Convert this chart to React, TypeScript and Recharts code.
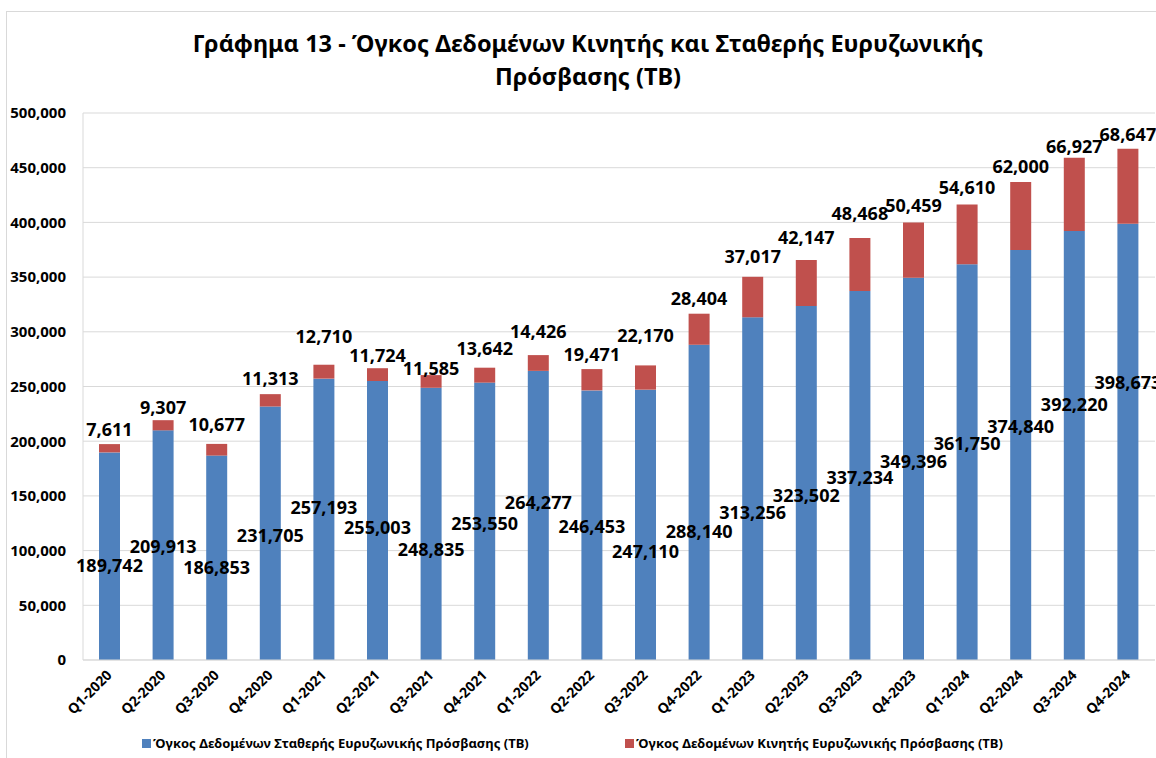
import React from 'react';
import {
  BarChart,
  Bar,
  XAxis,
  YAxis,
  CartesianGrid,
  LabelList
} from 'recharts';

// quarters on the category axis
const QUARTERS = [
  'Q1-2020', 'Q2-2020', 'Q3-2020', 'Q4-2020',
  'Q1-2021', 'Q2-2021', 'Q3-2021', 'Q4-2021',
  'Q1-2022', 'Q2-2022', 'Q3-2022', 'Q4-2022',
  'Q1-2023', 'Q2-2023', 'Q3-2023', 'Q4-2023',
  'Q1-2024', 'Q2-2024', 'Q3-2024', 'Q4-2024'
];

// fixed broadband traffic (TB)
const FIXED_TB = [
  189742, 209913, 186853, 231705,
  257193, 255003, 248835, 253550,
  264277, 246453, 247110, 288140,
  313256, 323502, 337234, 349396,
  361750, 374840, 392220, 398673
];

// mobile broadband traffic (TB)
const MOBILE_TB = [
  7611, 9307, 10677, 11313,
  12710, 11724, 11585, 13642,
  14426, 19471, 22170, 28404,
  37017, 42147, 48468, 50459,
  54610, 62000, 66927, 68647
];

const Y_TICKS = [0, 50000, 100000, 150000, 200000, 250000, 300000, 350000, 400000, 450000, 500000];

const FIXED_NAME = 'Όγκος Δεδομένων Σταθερής Ευρυζωνικής Πρόσβασης (TB)';
const MOBILE_NAME = 'Όγκος Δεδομένων Κινητής Ευρυζωνικής Πρόσβασης (TB)';

const COLORS = {
  fixed: '#4F81BD',
  mobile: '#C0504D',
  grid: '#D9D9D9'
};

const FONT = '"Noto Sans", "Open Sans", sans-serif';

// the labels in the original were dragged around by hand (px, from the bar middle / bar top)
const FIXED_LABEL_NUDGE = [9, 1, 9, 2, -12, 6, 25, 2, -13, 1, 26, 29, 23, 12, 1, -8, -19, -29, -41, -60];
const MOBILE_LABEL_GAP = [15, 13, 20, 16, 29, 13, 7, 20, 24, 15, 30, 16, 21, 23, 25, 18, 18, 16, 12, 15];

const chartData = QUARTERS.map((q, i) => ({
  quarter: q,
  fixed: FIXED_TB[i],
  mobile: MOBILE_TB[i]
}));

const fmt = (v: number) => Number(v).toLocaleString('en-US');

const XTick = ({ x, y, payload }: any) => (
  <text
    x={x + 3}
    y={y + 8}
    transform={`rotate(-45 ${x + 3} ${y + 8})`}
    textAnchor="end"
    fontFamily={FONT}
    fontWeight={700}
    fontSize={14}
    fill="#000"
  >
    {payload.value}
  </text>
);

const FixedLabel = (p: any) => {
  const idx = p.index ?? FIXED_TB.indexOf(p.value);
  const cx = p.x + p.width / 2;
  const cy = p.y + p.height / 2 + (FIXED_LABEL_NUDGE[idx] || 0);
  return (
    <text x={cx} y={cy} textAnchor="middle" dominantBaseline="central"
      fontFamily={FONT} fontWeight={700} fontSize={18} fill="#000">
      {fmt(p.value)}
    </text>
  );
};

const MobileLabel = (p: any) => {
  const idx = p.index ?? MOBILE_TB.indexOf(p.value);
  const cx = p.x + p.width / 2;
  const cy = p.y - (MOBILE_LABEL_GAP[idx] || 14);
  return (
    <text x={cx} y={cy} textAnchor="middle" dominantBaseline="central"
      fontFamily={FONT} fontWeight={700} fontSize={18} fill="#000">
      {fmt(p.value)}
    </text>
  );
};

const LEGEND_ITEMS = [
  { name: FIXED_NAME, color: COLORS.fixed, left: 142 },
  { name: MOBILE_NAME, color: COLORS.mobile, left: 625 }
];

export default function App() {
  return (
    <div style={{ position: 'relative', width: 1156, height: 758, background: '#fff', overflow: 'hidden' }}>
      <style>{'body{margin:0;}'}</style>
      {/* chart frame */}
      <div style={{ position: 'absolute', left: 6, top: 11, width: 1200, height: 760, borderLeft: `1px solid ${COLORS.grid}`, borderTop: `1px solid ${COLORS.grid}` }} />
      <div style={{
        position: 'absolute', left: 0, top: 27, width: 1176, textAlign: 'center',
        fontFamily: FONT, fontWeight: 700, fontSize: 23.5, lineHeight: '33px', color: '#000'
      }}>
        Γράφημα 13 - Όγκος Δεδομένων Κινητής και Σταθερής Ευρυζωνικής
        <br />
        Πρόσβασης (ΤΒ)
      </div>
      <div style={{ position: 'absolute', left: 0, top: 0 }}>
        <BarChart
          width={1156}
          height={758}
          data={chartData}
          margin={{ top: 113, right: 1, left: 8, bottom: 38 }}
        >
          <CartesianGrid vertical={false} stroke={COLORS.grid} />
          <XAxis
            dataKey="quarter"
            interval={0}
            height={60}
            tick={<XTick />}
            tickLine={false}
            axisLine={{ stroke: COLORS.grid }}
          />
          <YAxis
            width={75}
            domain={[0, 500000]}
            ticks={Y_TICKS}
            tickFormatter={fmt}
            tickLine={false}
            tickMargin={11}
            axisLine={{ stroke: COLORS.grid }}
            tick={{ fontFamily: FONT, fontWeight: 700, fontSize: 15, fill: '#000' }}
          />
          <Bar dataKey="fixed" name={FIXED_NAME} stackId="a" fill={COLORS.fixed} barSize={21} isAnimationActive={false}>
            <LabelList dataKey="fixed" content={<FixedLabel />} />
          </Bar>
          <Bar dataKey="mobile" name={MOBILE_NAME} stackId="a" fill={COLORS.mobile} barSize={21} isAnimationActive={false}>
            <LabelList dataKey="mobile" content={<MobileLabel />} />
          </Bar>
        </BarChart>
      </div>
      {/* legend */}
      <div style={{ position: 'absolute', left: 0, top: 734, width: 1156, height: 20, fontFamily: FONT, fontWeight: 700, fontSize: 13, color: '#000' }}>
        {LEGEND_ITEMS.map((item) => (
          <div key={item.name} style={{ position: 'absolute', left: item.left, top: 0, display: 'flex', alignItems: 'center', whiteSpace: 'nowrap' }}>
            <span style={{ width: 9, height: 9, background: item.color, marginRight: 2, display: 'inline-block' }} />
            <span>{item.name}</span>
          </div>
        ))}
      </div>
    </div>
  );
}
